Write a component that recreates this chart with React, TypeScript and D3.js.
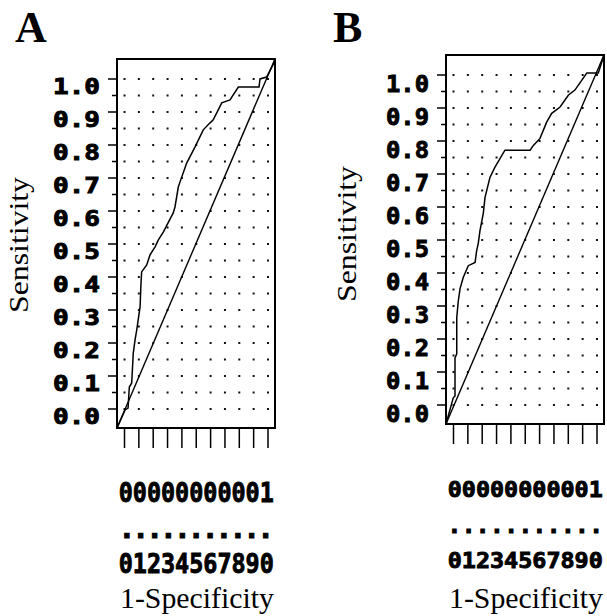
import * as d3 from 'd3'

// axis ticks (shared by both panels)
const tickValues = [0, 0.1, 0.2, 0.3, 0.4, 0.5, 0.6, 0.7, 0.8, 0.9, 1.0]
const tickLabels = ['0.0', '0.1', '0.2', '0.3', '0.4', '0.5', '0.6', '0.7', '0.8', '0.9', '1.0']
const gridSteps = [0, 0.05, 0.1, 0.15, 0.2, 0.25, 0.3, 0.35, 0.4, 0.45, 0.5, 0.55, 0.6, 0.65, 0.7, 0.75, 0.8, 0.85, 0.9, 0.95, 1.0]

// ROC curve A (1-specificity, sensitivity)
const rocAFpr = [0, 0.051, 0.07, 0.078, 0.093, 0.103, 0.114, 0.125, 0.146, 0.152, 0.156, 0.188, 0.209, 0.241, 0.261, 0.293, 0.356, 0.367, 0.388, 0.399, 0.441, 0.494, 0.546, 0.589, 0.609, 0.663, 0.715, 0.768, 0.899, 0.905, 0.947, 0.987, 1]
const rocASens = [0, 0.049, 0.054, 0.111, 0.122, 0.203, 0.238, 0.266, 0.328, 0.393, 0.423, 0.442, 0.469, 0.491, 0.509, 0.531, 0.583, 0.599, 0.653, 0.667, 0.718, 0.762, 0.808, 0.827, 0.835, 0.881, 0.889, 0.924, 0.924, 0.946, 0.951, 0.984, 1]

// ROC curve B
const rocBFpr = [0, 0.046, 0.057, 0.057, 0.068, 0.068, 0.078, 0.089, 0.109, 0.141, 0.184, 0.194, 0.204, 0.215, 0.236, 0.247, 0.278, 0.31, 0.373, 0.532, 0.553, 0.595, 0.637, 0.669, 0.722, 0.774, 0.816, 0.891, 0.964, 1]
const rocBSens = [0, 0.071, 0.076, 0.179, 0.19, 0.288, 0.334, 0.367, 0.397, 0.429, 0.438, 0.47, 0.489, 0.524, 0.571, 0.614, 0.668, 0.696, 0.742, 0.742, 0.755, 0.774, 0.818, 0.842, 0.859, 0.891, 0.905, 0.951, 0.951, 1]

// chance diagonal
const chanceFpr = [0, 1]
const chanceSens = [0, 1]

const FRAME_W = 158
const FRAME_H = 369
const MONO = '"DejaVu Sans Mono", monospace'
const SERIF = '"Liberation Serif", "Times New Roman", serif'

const panels = [
  {
    letter: 'A', letterX: 15, ox: 117, oy: 59, fpr: rocAFpr, sens: rocASens,
    yLabFs: 20.5, yLabW: 47, yLabDy: 15, xLabFs: 27, xRows: [443, 479, 514],
    sensX: 28, sensY: 245,
  },
  {
    letter: 'B', letterX: 333, ox: 446, oy: 55, fpr: rocBFpr, sens: rocBSens,
    yLabFs: 23, yLabW: 43, yLabDy: 16.5, xLabFs: 22, xRows: [442, 478, 513],
    sensX: 356, sensY: 234,
  },
]

function Panel({ p }: { p: typeof panels[number] }) {
  // tick scales (labels) and curve scales (curves are stretched to the frame)
  const xAxis = d3.scaleLinear().domain([0, 1]).range([7.5, 151])
  const yAxis = d3.scaleLinear().domain([0, 1]).range([350, 20])
  const xCurve = d3.scaleLinear().domain([0, 1]).range([0, FRAME_W])
  const yCurve = d3.scaleLinear().domain([0, 1]).range([FRAME_H, 0])

  const line = d3.line<[number, number]>()
    .x(d => xCurve(d[0]))
    .y(d => yCurve(d[1]))

  const roc = line(p.fpr.map((f, i) => [f, p.sens[i]] as [number, number]))
  const chance = line(chanceFpr.map((f, i) => [f, chanceSens[i]] as [number, number]))

  // x tick labels are printed vertically: one text row per character position
  const charW = 11.5
  const rowStart = xAxis(0) - charW / 2
  const rowLen = xAxis(1) - xAxis(0) + charW
  const rows = [0, 1, 2].map(r => tickLabels.map(l => l[r]).join(''))

  return (
    <g>
      <text x={p.letterX} y={42} fontFamily={SERIF} fontWeight="bold" fontSize={44}>{p.letter}</text>
      <text
        transform={`translate(${p.sensX},${p.sensY}) rotate(-90)`}
        textAnchor="middle" fontFamily={SERIF} fontSize={28}
        textLength={136} lengthAdjust="spacingAndGlyphs"
      >Sensitivity</text>
      <text x={p.ox + FRAME_W / 2 - 76} y={608} fontFamily={SERIF} fontSize={29}
        textLength={154} lengthAdjust="spacingAndGlyphs">1-Specificity</text>

      <g transform={`translate(${p.ox},${p.oy})`}>
        {/* dot grid */}
        {tickValues.map(tx => gridSteps.map(gy => (
          <rect key={`${tx}-${gy}`} x={xAxis(tx) - 1} y={yAxis(gy) - 1} width={2} height={2} fill="#111" />
        )))}

        <path d={chance ?? ''} fill="none" stroke="#000" strokeWidth={1.4} />
        <path d={roc ?? ''} fill="none" stroke="#000" strokeWidth={1.5} />

        <rect x={0} y={0} width={FRAME_W} height={FRAME_H} fill="none" stroke="#000" strokeWidth={2} />

        {/* y ticks */}
        {gridSteps.map((v, i) => (
          <line key={v} x1={i % 2 === 0 ? -9 : -5} x2={0} y1={yAxis(v)} y2={yAxis(v)} stroke="#000" strokeWidth={1.5} />
        ))}
        {tickValues.map((v, i) => (
          <text key={v} x={-17 - p.yLabW} y={yAxis(v) + p.yLabDy} fontFamily={MONO} fontWeight="bold"
            fontSize={p.yLabFs} textLength={p.yLabW} lengthAdjust="spacingAndGlyphs"
            stroke="#000" strokeWidth={0.9}>{tickLabels[i]}</text>
        ))}

        {/* x ticks */}
        {tickValues.map(v => (
          <line key={v} x1={xAxis(v)} x2={xAxis(v)} y1={FRAME_H} y2={FRAME_H + 20} stroke="#000" strokeWidth={1.5} />
        ))}
        {rows.map((row, r) => (
          <text key={r} x={rowStart} y={p.xRows[r]} fontFamily={MONO} fontWeight="bold"
            fontSize={p.xLabFs} textLength={rowLen} lengthAdjust={r === 1 ? 'spacing' : 'spacingAndGlyphs'}
            stroke="#000" strokeWidth={r === 1 ? 1.1 : 0.9}>{row}</text>
        ))}
      </g>
    </g>
  )
}

export default function App() {
  return (
    <svg width={607} height={616} style={{ position: 'absolute', left: 0, top: 0, background: '#fff' }}>
      {panels.map(p => <Panel key={p.letter} p={p} />)}
    </svg>
  )
}
